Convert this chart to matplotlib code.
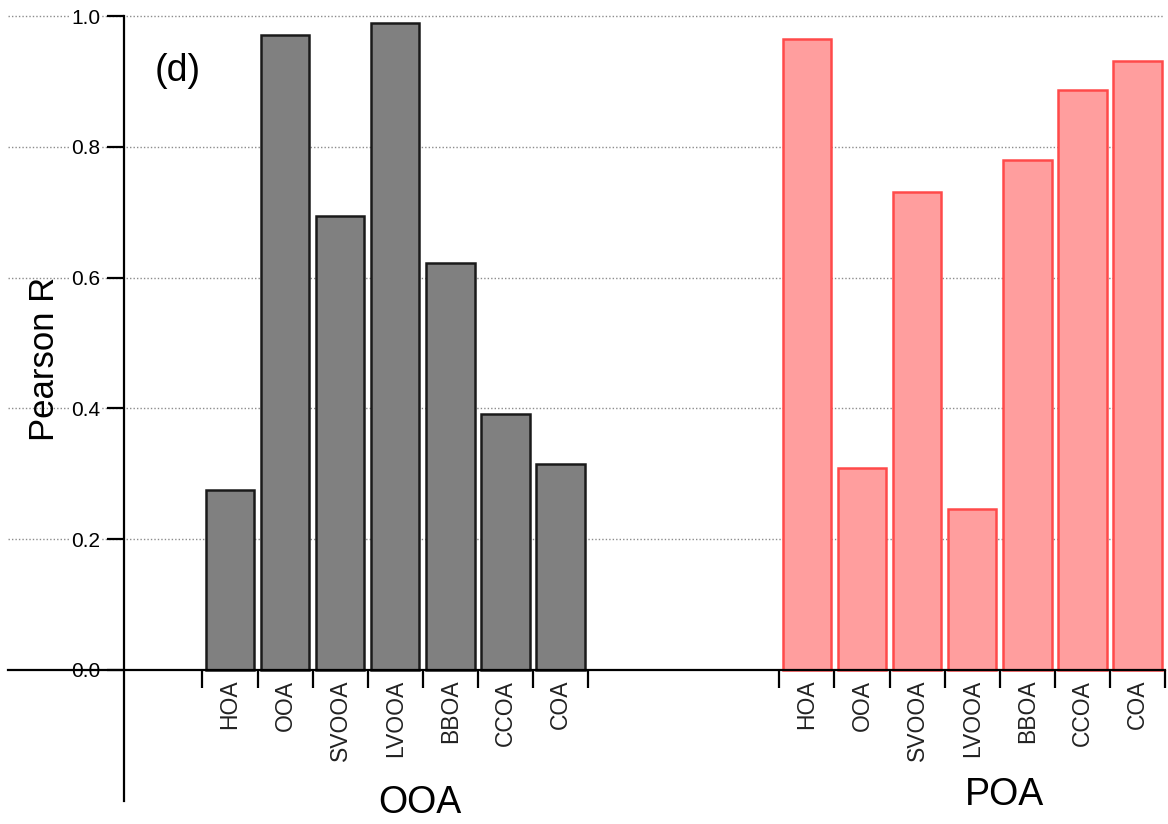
import numpy as np
import matplotlib
matplotlib.use("Agg")
import matplotlib.pyplot as plt

plt.rcParams['font.family'] = ['Liberation Sans', 'DejaVu Sans']

# Pearson R of each factor against the OOA and POA reference series
factors = ["HOA", "OOA", "SVOOA", "LVOOA", "BBOA", "CCOA", "COA"]
r_ooa = [0.275, 0.971, 0.694, 0.989, 0.622, 0.391, 0.315]
r_poa = [0.965, 0.309, 0.731, 0.246, 0.780, 0.887, 0.931]
groups = ["OOA", "POA"]
yticks = [0.0, 0.2, 0.4, 0.6, 0.8, 1.0]

gap = 10.475          # start of second group on the category axis
x_ooa = np.arange(len(factors))
x_poa = x_ooa + gap

fig = plt.figure(figsize=(11.68, 8.24), dpi=100)
ax = fig.add_axes([0, 0, 1, 1])
ax.set_xlim(-4.176, 17.03)
ax.set_ylim(-0.2355, 1.0245)

# dotted horizontal guides
ax.hlines(yticks[1:], -4.03, 16.94, colors="#8c8c8c", linestyles=(0, (1, 1.5)),
          linewidth=1.0, zorder=0)

ax.bar(x_ooa, r_ooa, width=0.88, color="#808080", edgecolor="#1a1a1a",
       linewidth=1.8, zorder=2)
ax.bar(x_poa, r_poa, width=0.88, color="#ff9e9e", edgecolor="#ff4a4a",
       linewidth=1.8, zorder=2)

# axes: y axis crossing below zero, x axis along zero
for s in ["top", "right"]:
    ax.spines[s].set_visible(False)
ax.spines["left"].set_position(("data", -1.924))
ax.spines["left"].set_bounds(-0.2, 1.0)
ax.spines["left"].set_linewidth(1.6)
ax.spines["bottom"].set_position(("data", 0))
ax.spines["bottom"].set_bounds(-4.03, gap + 6.5)
ax.spines["bottom"].set_linewidth(1.6)

ax.set_yticks(yticks)
ax.set_yticklabels(["%.1f" % v for v in yticks])
ax.tick_params(axis="y", direction="out", length=12, width=1.6, pad=5,
               labelsize=15)
for lab in ax.get_yticklabels():
    lab.set_bbox(dict(facecolor="white", edgecolor="none", pad=0.5))

bounds = np.concatenate([x_ooa - 0.5, [x_ooa[-1] + 0.5],
                         x_poa - 0.5, [x_poa[-1] + 0.5]])
ax.set_xticks(bounds)
ax.set_xticklabels([])
ax.tick_params(axis="x", which="major", direction="out", length=13, width=1.6)
ax.set_xticks(np.concatenate([x_ooa, x_poa]), minor=True)
ax.set_xticklabels(factors + factors, minor=True, rotation=90, fontsize=16.5,
                   color="#222222")
ax.tick_params(axis="x", which="minor", length=0, pad=7)

ax.text(0.0385, 0.565, "Pearson R", rotation=90, fontsize=25,
        ha="center", va="center", transform=ax.transAxes)
ax.text(3.45, -0.219, groups[0], fontsize=27, ha="center", va="baseline")
ax.text(14.07, -0.206, groups[1], fontsize=27, ha="center", va="baseline")
ax.text(-0.944, 0.916, "(d)", fontsize=27, ha="center", va="center")

fig.savefig("out.png", dpi=100)
